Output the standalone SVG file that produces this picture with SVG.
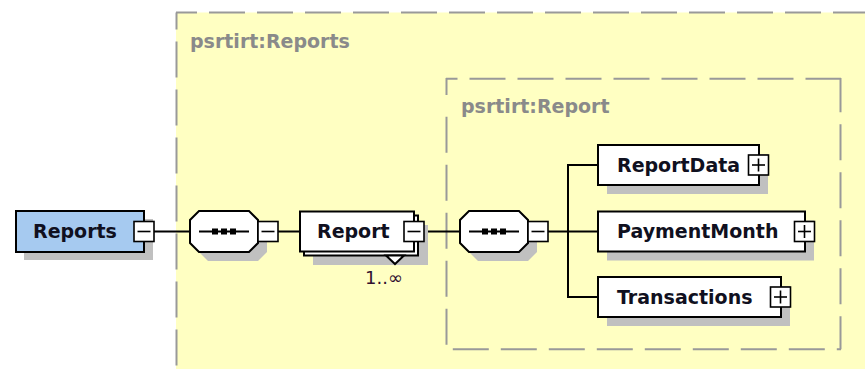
<svg xmlns="http://www.w3.org/2000/svg" width="865" height="369" viewBox="0 0 865 369">
<defs>
<style>
.bg{fill:#ffffff}
.yl{fill:#FFFFC2}
.dash{stroke:#999999;stroke-width:2;fill:none;stroke-dasharray:36 12}
.solidg{stroke:#999999;stroke-width:2;fill:none}
.lbl{font-family:"DejaVu Sans",sans-serif;font-weight:bold;font-size:19px;fill:#8a8a8a}
.nm{font-family:"DejaVu Sans",sans-serif;font-weight:bold;font-size:19px;fill:#101020}
.occ{font-family:"DejaVu Sans",sans-serif;font-size:18px;fill:#301030}
.box{fill:#ffffff;stroke:#000000;stroke-width:2}
.gbox{fill:#A6CAF0;stroke:#000000;stroke-width:2}
.sh{fill:#c0c0c0}
.btn{fill:#ffffff;stroke:#000000;stroke-width:1.6}
.sign{stroke:#000000;stroke-width:1.6;fill:none}
.ln{stroke:#000000;stroke-width:2;fill:none}
</style>
</defs>
<rect class="bg" x="0" y="0" width="865" height="369"/>
<g id="outer-group">
<rect class="yl" x="176" y="12.5" width="700" height="370"/>
<line class="dash" x1="176" y1="12.5" x2="866" y2="12.5" stroke-dashoffset="15"/>
<line class="dash" x1="176.5" y1="12.5" x2="176.5" y2="370" stroke-dashoffset="19"/>
<text class="lbl" x="190" y="48">psrtirt:Reports</text>
</g>
<g id="inner-group">
<line class="dash" x1="446" y1="78.7" x2="841" y2="78.7" stroke-dashoffset="24.5"/>
<line class="dash" x1="840.5" y1="78" x2="840.5" y2="349.3" stroke-dashoffset="1.7"/>
<line class="dash" x1="446" y1="349.3" x2="841" y2="349.3" stroke-dashoffset="41.2"/>
<line class="solidg" x1="446.5" y1="78" x2="446.5" y2="95"/>
<line class="dash" x1="446.5" y1="116.7" x2="446.5" y2="349.3"/>
<text class="lbl" x="461" y="113">psrtirt:Report</text>
</g>
<g id="connectors">
<line class="ln" x1="154" y1="231.5" x2="190" y2="231.5"/>
<line class="ln" x1="278" y1="231.5" x2="300" y2="231.5"/>
<line class="ln" x1="424" y1="231.5" x2="460" y2="231.5"/>
<line class="ln" x1="548" y1="231.5" x2="568" y2="231.5"/>
<line class="ln" x1="568" y1="164" x2="568" y2="298"/>
<line class="ln" x1="567" y1="165" x2="598" y2="165"/>
<line class="ln" x1="568" y1="231.5" x2="598" y2="231.5"/>
<line class="ln" x1="567" y1="297" x2="598" y2="297"/>
</g>
<g id="node-Reports">
<rect class="sh" x="24" y="219" width="129" height="41"/>
<rect class="gbox" x="16" y="211" width="128" height="41"/>
<text class="nm" x="33" y="238">Reports</text>
<rect class="btn" x="134" y="221.5" width="20" height="20"/>
<line class="sign" x1="137.5" y1="231.5" x2="150.5" y2="231.5"/>
</g>
<g id="node-sequence1">
<polygon class="sh" points="208,220 258,220 267,229 267,252 258,261 208,261 199,252 199,229"/>
<polygon class="box" points="199,211 249,211 258,220 258,243 249,252 199,252 190,243 190,220"/>
<line class="ln" x1="199" y1="231.5" x2="249" y2="231.5" stroke-width="1.6"/>
<rect x="212" y="228.5" width="6" height="6" fill="#000"/>
<rect x="221" y="228.5" width="6" height="6" fill="#000"/>
<rect x="230" y="228.5" width="6" height="6" fill="#000"/>
<rect class="btn" x="258" y="221.5" width="20" height="20"/>
<line class="sign" x1="261.5" y1="231.5" x2="274.5" y2="231.5"/>
</g>
<g id="node-Report">
<rect class="sh" x="313" y="225" width="115" height="40"/>
<rect class="box" x="304" y="215.5" width="114" height="40"/>
<polygon class="box" points="386,255.5 404,255.5 395,264" stroke-width="1.4"/>
<rect class="box" x="300" y="211.5" width="114" height="40"/>
<text class="nm" x="317" y="238">Report</text>
<rect class="btn" x="404" y="221.5" width="20" height="20"/>
<line class="sign" x1="407.5" y1="231.5" x2="420.5" y2="231.5"/>
<text class="occ" x="365" y="284">1..∞</text>
</g>
<g id="node-sequence2">
<polygon class="sh" points="478,220 528,220 537,229 537,252 528,261 478,261 469,252 469,229"/>
<polygon class="box" points="469,211 519,211 528,220 528,243 519,252 469,252 460,243 460,220"/>
<line class="ln" x1="469" y1="231.5" x2="519" y2="231.5" stroke-width="1.6"/>
<rect x="482" y="228.5" width="6" height="6" fill="#000"/>
<rect x="491" y="228.5" width="6" height="6" fill="#000"/>
<rect x="500" y="228.5" width="6" height="6" fill="#000"/>
<rect class="btn" x="528" y="221.5" width="20" height="20"/>
<line class="sign" x1="531.5" y1="231.5" x2="544.5" y2="231.5"/>
</g>
<g id="node-ReportData">
<rect class="sh" x="607" y="154" width="161" height="40"/>
<rect class="box" x="598" y="145" width="161" height="40"/>
<text class="nm" x="617" y="172">ReportData</text>
<rect class="btn" x="748.5" y="155" width="20" height="20"/>
<line class="sign" x1="752" y1="165" x2="765" y2="165"/>
<line class="sign" x1="758.5" y1="158.5" x2="758.5" y2="171.5"/>
</g>
<g id="node-PaymentMonth">
<rect class="sh" x="607" y="220.5" width="207" height="40"/>
<rect class="box" x="598" y="211.5" width="207" height="40"/>
<text class="nm" x="617" y="238">PaymentMonth</text>
<rect class="btn" x="794.5" y="221.5" width="20" height="20"/>
<line class="sign" x1="798" y1="231.5" x2="811" y2="231.5"/>
<line class="sign" x1="804.5" y1="225" x2="804.5" y2="238"/>
</g>
<g id="node-Transactions">
<rect class="sh" x="607" y="286" width="183" height="40"/>
<rect class="box" x="598" y="277" width="183" height="40"/>
<text class="nm" x="617" y="304">Transactions</text>
<rect class="btn" x="770.5" y="287" width="20" height="20"/>
<line class="sign" x1="774" y1="297" x2="787" y2="297"/>
<line class="sign" x1="780.5" y1="290.5" x2="780.5" y2="303.5"/>
</g>
</svg>
